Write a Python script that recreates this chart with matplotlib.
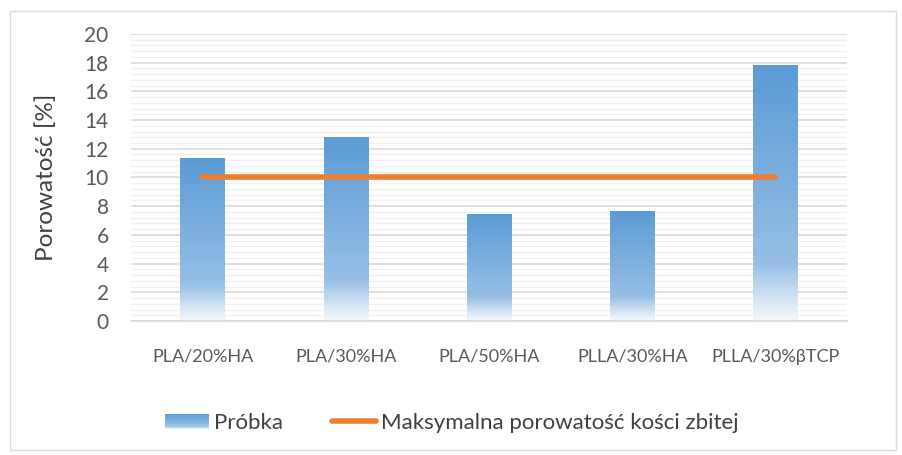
import matplotlib.pyplot as plt
import numpy as np
from matplotlib.colors import LinearSegmentedColormap
from matplotlib.patches import Rectangle
from matplotlib.lines import Line2D
from matplotlib.legend_handler import HandlerBase

categories = ['PLA/20%HA', 'PLA/30%HA', 'PLA/50%HA', 'PLLA/30%HA', 'PLLA/30%βTCP']
probka = [11.3, 12.8, 7.4, 7.6, 17.8]
max_bone = [10, 10, 10, 10, 10]

plt.rcParams['font.family'] = ['Lato', 'DejaVu Sans']

blue = '#5B9BD5'
orange = '#ED7D31'
grad = LinearSegmentedColormap.from_list(
    'g', [(0.0, '#f4f8fc'), (0.12, '#c6dcf0'), (0.22, '#97bfe5'), (1.0, blue)])

fig = plt.figure(figsize=(9.03, 4.55), dpi=100)
ax = fig.add_axes([0.145, 0.2945, 0.793, 0.631])

x = np.arange(len(categories))
w = 0.31
g = np.linspace(0, 1, 256).reshape(-1, 1)
for xi, v in zip(x, probka):
    ax.imshow(g, cmap=grad, origin='lower', aspect='auto',
              extent=(xi - w / 2, xi + w / 2, 0, v), zorder=2)

ax.plot(x, max_bone, color=orange, lw=4, solid_capstyle='round', zorder=3)

ax.set_xlim(-0.5, len(categories) - 0.5)
ax.set_ylim(0, 20)
ax.set_yticks(np.arange(0, 21, 2))
ax.set_yticks(np.arange(0, 20.01, 0.4), minor=True)
ax.grid(axis='y', which='major', color='#d9d9d9', lw=1.2, zorder=0)
ax.grid(axis='y', which='minor', color='#f0f0f0', lw=1.0, zorder=0)
ax.set_axisbelow(True)
for s in ['top', 'right', 'left']:
    ax.spines[s].set_visible(False)
ax.spines['bottom'].set_color('#d9d9d9')
ax.spines['bottom'].set_linewidth(1.2)
ax.tick_params(axis='both', which='both', length=0)
ax.tick_params(axis='y', labelsize=15, labelcolor='#595959', pad=16)
ax.tick_params(axis='x', labelsize=13, labelcolor='#595959', pad=20)
ax.set_xticks(x)
ax.set_xticklabels(categories)
ax.set_ylabel('Porowatość [%]', fontsize=17.5, color='#404040', labelpad=20)


class GradHandler(HandlerBase):
    def create_artists(self, legend, orig, xd, yd, width, height, fontsize, trans):
        arts = []
        n = 12
        for i in range(n):
            c = grad((n - i - 0.5) / n)
            r = Rectangle((xd, yd + height * (n - i - 1) / n), width, height / n,
                          facecolor=c, edgecolor='none', transform=trans)
            arts.append(r)
        return arts


bar_handle = Rectangle((0, 0), 1, 1)
line_handle = Line2D([0], [0], color=orange, lw=4, solid_capstyle='round')
fig.legend([bar_handle, line_handle], ['Próbka', 'Maksymalna porowatość kości zbitej'],
           handler_map={bar_handle: GradHandler()},
           loc='center', bbox_to_anchor=(0.5, 0.07), ncol=2, frameon=False,
           fontsize=16, labelcolor='#404040', handlelength=2.0, handletextpad=0.2,
           columnspacing=2.2)

fig.patches.append(Rectangle((10 / 903, 5 / 455), 886 / 903, 439 / 455,
                             transform=fig.transFigure, fill=False,
                             edgecolor='#d9d9d9', lw=1))

fig.savefig('out.png', dpi=100)
